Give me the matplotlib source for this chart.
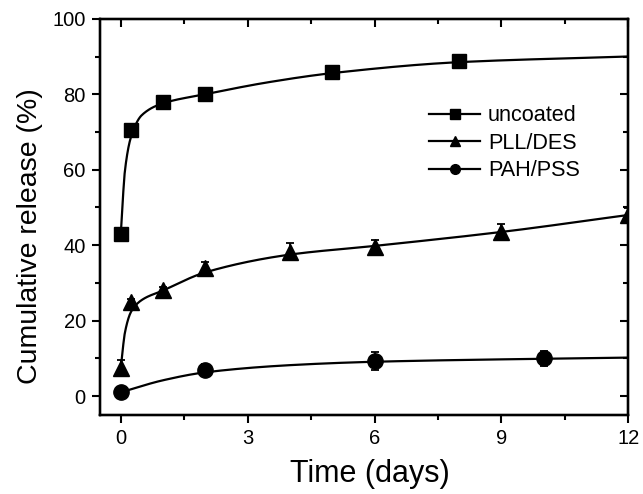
#!/usr/bin/env python

import numpy as np
from matplotlib import pyplot as plt
from matplotlib.ticker import MultipleLocator

plt.rcParams['font.family'] = ['Liberation Sans', 'DejaVu Sans']

# measured points
unc_x = [0, 0.25, 1, 2, 5, 8]
unc_y = [43, 70.5, 78, 80, 86, 88.7]
unc_err = [0.5, 0.5, 0.8, 0.8, 0.8, 1.2]

pll_x = [0, 0.25, 1, 2, 4, 6, 9, 12]
pll_y = [7.5, 25, 28, 34, 38.3, 39.5, 43.5, 48]
pll_err = [2, 0.8, 1, 1.5, 2.2, 2, 2, 1.8]

pah_x = [0, 2, 6, 10]
pah_y = [1, 7, 9.3, 10]
pah_err = [0.5, 1.5, 2.5, 2]

# fitted curves at a few knots
unc_fit_x = [0, 0.1, 0.25, 0.5, 1, 2, 3.5, 5, 8, 12]
unc_fit_y = [43, 60, 69, 74.5, 77.6, 80, 83.2, 85.6, 88.5, 90]
pll_fit_x = [0, 0.1, 0.25, 0.5, 1, 2, 4, 6, 9, 12]
pll_fit_y = [7.5, 17, 22.5, 25.5, 28, 32.8, 37.5, 39.8, 43.5, 48]
pah_fit_x = [0, 1, 2, 4, 6, 10, 12]
pah_fit_y = [1, 4.2, 6.3, 8.2, 9.1, 9.9, 10.2]


def pchip(xk, yk, xs):
    # monotone cubic through the knots
    xk = np.asarray(xk, float)
    yk = np.asarray(yk, float)
    h = np.diff(xk)
    d = np.diff(yk) / h
    m = np.zeros_like(yk)
    for i in range(1, len(xk) - 1):
        if d[i - 1] * d[i] > 0:
            w1 = 2 * h[i] + h[i - 1]
            w2 = h[i] + 2 * h[i - 1]
            m[i] = (w1 + w2) / (w1 / d[i - 1] + w2 / d[i])
    m[0] = d[0]
    m[-1] = d[-1]
    out = np.empty_like(xs)
    for j, x in enumerate(xs):
        i = min(np.searchsorted(xk, x, side='right') - 1, len(xk) - 2)
        t = (x - xk[i]) / h[i]
        h00 = 2 * t**3 - 3 * t**2 + 1
        h10 = t**3 - 2 * t**2 + t
        h01 = -2 * t**3 + 3 * t**2
        h11 = t**3 - t**2
        out[j] = h00 * yk[i] + h10 * h[i] * m[i] + h01 * yk[i + 1] + h11 * h[i] * m[i + 1]
    return out


fig, ax = plt.subplots(figsize=(6.43, 4.94), dpi=100)
fig.subplots_adjust(left=0.155, right=0.977, top=0.962, bottom=0.16)

xs = np.linspace(0, 12, 400)
series = [
    (unc_x, unc_y, unc_err, unc_fit_x, unc_fit_y, 's', 'uncoated', 10),
    (pll_x, pll_y, pll_err, pll_fit_x, pll_fit_y, '^', 'PLL/DES', 11),
    (pah_x, pah_y, pah_err, pah_fit_x, pah_fit_y, 'o', 'PAH/PSS', 11),
]
for x, y, err, fx, fy, mk, lab, ms in series:
    ax.plot(xs, pchip(fx, fy, xs), color='black', lw=1.6, zorder=2)
    ax.errorbar(x, y, yerr=err, fmt=mk, color='black', ms=ms, capsize=3,
                elinewidth=1.3, capthick=1.3, zorder=3)
    ax.plot([], [], color='black', lw=1.6, marker=mk, ms=7, label=lab)

ax.set_xlim(-0.5, 12)
ax.set_ylim(-5, 100)
ax.xaxis.set_major_locator(MultipleLocator(3))
ax.xaxis.set_minor_locator(MultipleLocator(1.5))
ax.yaxis.set_major_locator(MultipleLocator(20))
ax.yaxis.set_minor_locator(MultipleLocator(10))
ax.tick_params(which='both', direction='out', width=1.5, labelsize=14.5, pad=4)
ax.tick_params(which='major', length=6)
ax.tick_params(which='minor', length=3.5)
for s in ax.spines.values():
    s.set_linewidth(1.6)

# ticks on the top and right point inward
top = ax.twiny()
top.set_xlim(ax.get_xlim())
top.xaxis.set_major_locator(MultipleLocator(3))
top.xaxis.set_minor_locator(MultipleLocator(1.5))
right = ax.twinx()
right.set_ylim(ax.get_ylim())
right.yaxis.set_major_locator(MultipleLocator(20))
right.yaxis.set_minor_locator(MultipleLocator(10))
for tw in (top, right):
    tw.tick_params(which='both', direction='in', width=1.5,
                   labeltop=False, labelright=False)
    tw.tick_params(which='major', length=6)
    tw.tick_params(which='minor', length=3.5)
    for s in tw.spines.values():
        s.set_linewidth(1.6)

ax.set_xlabel('Time (days)', fontsize=22)
ax.xaxis.set_label_coords(0.512, -0.112)
ax.set_ylabel('Cumulative release (%)', fontsize=20.5)
ax.yaxis.set_label_coords(-0.108, 0.451)

ax.legend(loc='upper left', bbox_to_anchor=(0.623, 0.782), frameon=False,
          fontsize=15.6, handlelength=2.36, handletextpad=0.37, labelspacing=0.3,
          borderaxespad=0, borderpad=0)

fig.savefig('out.png')
